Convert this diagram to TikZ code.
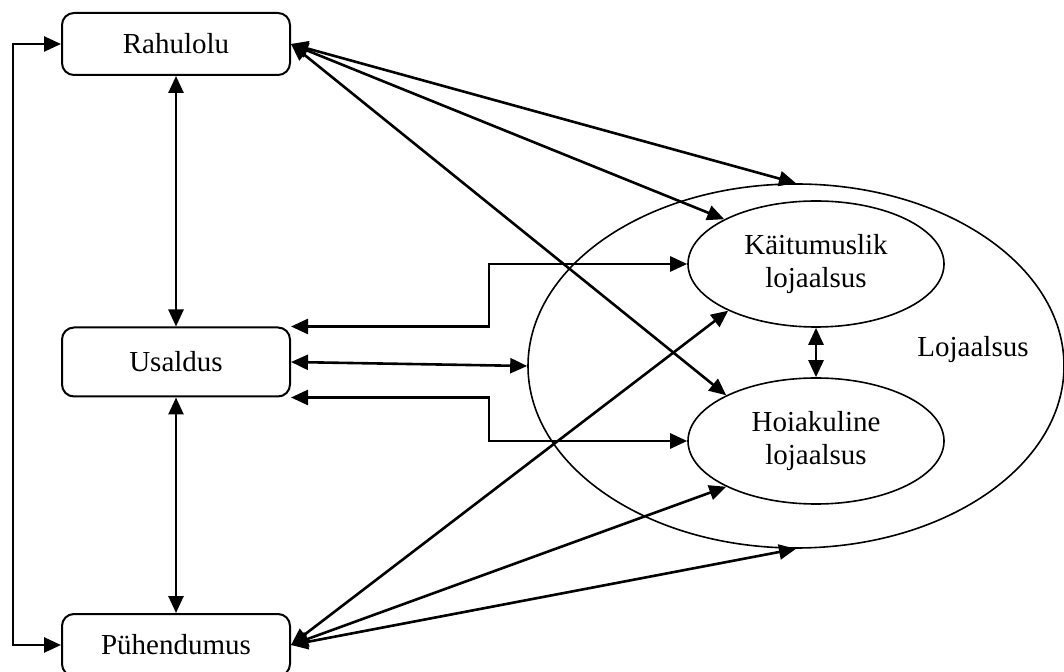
\documentclass[tikz,border=0pt]{standalone}
\usepackage{fontspec}
\setmainfont{Liberation Serif}
\usetikzlibrary{shapes.geometric, arrows.meta}
\tikzset{%
  box/.style={draw, line width=1pt, rounded corners=6pt, minimum width=114pt, minimum height=31pt, inner sep=0pt}, % the three factors
  oval/.style={draw, ellipse, line width=0.8pt, minimum width=128pt, minimum height=63pt, inner sep=0pt, align=center},
  link/.style={draw, {Triangle[length=8.5pt,width=7.5pt]}-{Triangle[length=8.5pt,width=7.5pt]}, line width=1.3pt},
  every edge/.style={link}
}

\begin{document}
\begin{tikzpicture}[x=0.5pt, y=-0.5pt, font=\fontsize{14.5}{16.5}\selectfont]
    \useasboundingbox (0,0) rectangle (1064,672);
    \node[oval, minimum width=268pt, minimum height=182pt] (loj) at (796,366) {};
    \node (lojtext) at (973,350) {Lojaalsus};
    \node[oval] (kai) at (816,264) {Käitumuslik\\lojaalsus};
    \node[oval] (hoi) at (816,441) {Hoiakuline\\lojaalsus};
    \node[box] (rah) at (176,44) {Rahulolu};
    \node[box, minimum height=34.5pt] (usa) at (176,362) {Usaldus};
    \node[box] (puh) at (176,645) {Pühendumus};
    \coordinate (split) at (489,362);
    \draw[link] (rah.west) -- ++(-48,0) |- (puh.west);
    \draw (rah.south) edge (usa.north);
    \draw (usa.south) edge (puh.north);
    \draw (rah.east) edge (loj.north);
    \draw (rah.east) edge (kai.154);
    \draw (rah.east) edge (hoi.153);
    \draw (puh.east) edge (kai.208);
    \draw (puh.east) edge (hoi.207);
    \draw (puh.east) edge (loj.south);
    \draw[link] (usa.north east) -| (split |- kai.west) -- (kai.west);
    \draw (usa.east) edge (loj.west);
    \draw[link] (usa.south east) -| (split |- hoi.west) -- (hoi.west);
    \draw (kai.south) edge (hoi.north);
\end{tikzpicture}
\end{document}
